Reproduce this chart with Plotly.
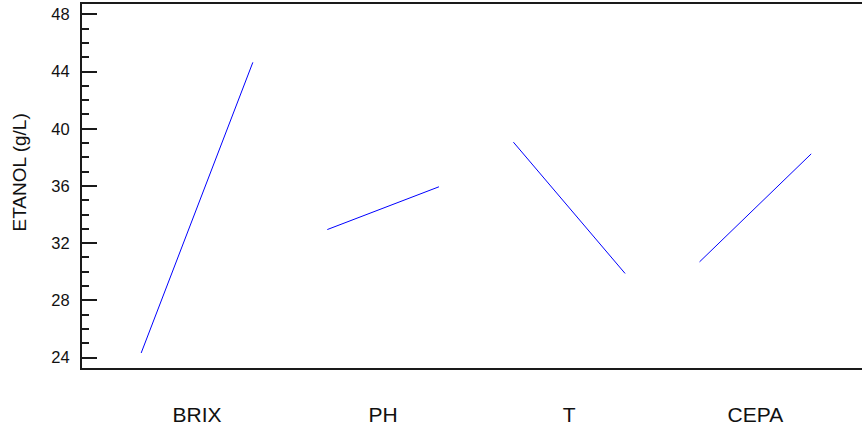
import plotly.graph_objects as go

# Main effects of each factor on ethanol yield (mean at low and high level)
factors = ["BRIX", "PH", "T", "CEPA"]
low_level_means = [24.32, 32.95, 39.06, 30.69]
high_level_means = [44.64, 35.94, 29.88, 38.24]

y_ticks = [24, 28, 32, 36, 40, 44, 48]

HALF_SPAN = 0.3  # horizontal half-width of each effect segment, in category units

fig = go.Figure()
for i, (name, lo, hi) in enumerate(zip(factors, low_level_means, high_level_means)):
    fig.add_trace(go.Scatter(
        x=[i - HALF_SPAN, i + HALF_SPAN],
        y=[lo, hi],
        mode="lines",
        line=dict(color="#0000ff", width=1),
        name=name,
        showlegend=False,
        hoverinfo="x+y",
    ))

font_family = "Arial, Liberation Sans, sans-serif"
axis_color = "#1a1a1a"

fig.update_layout(
    width=862,
    height=429,
    margin=dict(l=82, r=0, t=4, b=61),
    paper_bgcolor="white",
    plot_bgcolor="white",
    font=dict(family=font_family, color="#111111"),
    xaxis=dict(
        range=[-0.618, 3.573],
        tickvals=list(range(len(factors))),
        ticktext=factors,
        ticks="",
        showgrid=False,
        zeroline=False,
        showline=True,
        mirror=True,
        linecolor=axis_color,
        linewidth=2,
        tickfont=dict(size=21),
        ticklabelstandoff=27,
    ),
    yaxis=dict(
        range=[23.27, 48.72],
        tickvals=y_ticks,
        ticks="inside",
        ticklen=15,
        tickwidth=1.5,
        tickcolor=axis_color,
        minor=dict(dtick=1, ticks="inside", ticklen=7, tickwidth=1.5, tickcolor=axis_color),
        showgrid=False,
        zeroline=False,
        showline=True,
        linecolor=axis_color,
        linewidth=2,
        tickfont=dict(size=16.5),
        ticklabelstandoff=7,
    ),
    yaxis2=dict(
        matches="y",
        overlaying="y",
        side="right",
        tickvals=y_ticks,
        ticks="inside",
        ticklen=6,
        tickwidth=1.5,
        tickcolor=axis_color,
        showticklabels=False,
        showgrid=False,
        zeroline=False,
        showline=False,
    ),
    annotations=[dict(
        text="ETANOL (g/L)",
        textangle=-90,
        xref="paper", yref="paper",
        x=0, y=0.537,
        xanchor="center", yanchor="middle",
        xshift=-62,
        showarrow=False,
        font=dict(size=19),
    )],
)

fig.write_html("out.html")
